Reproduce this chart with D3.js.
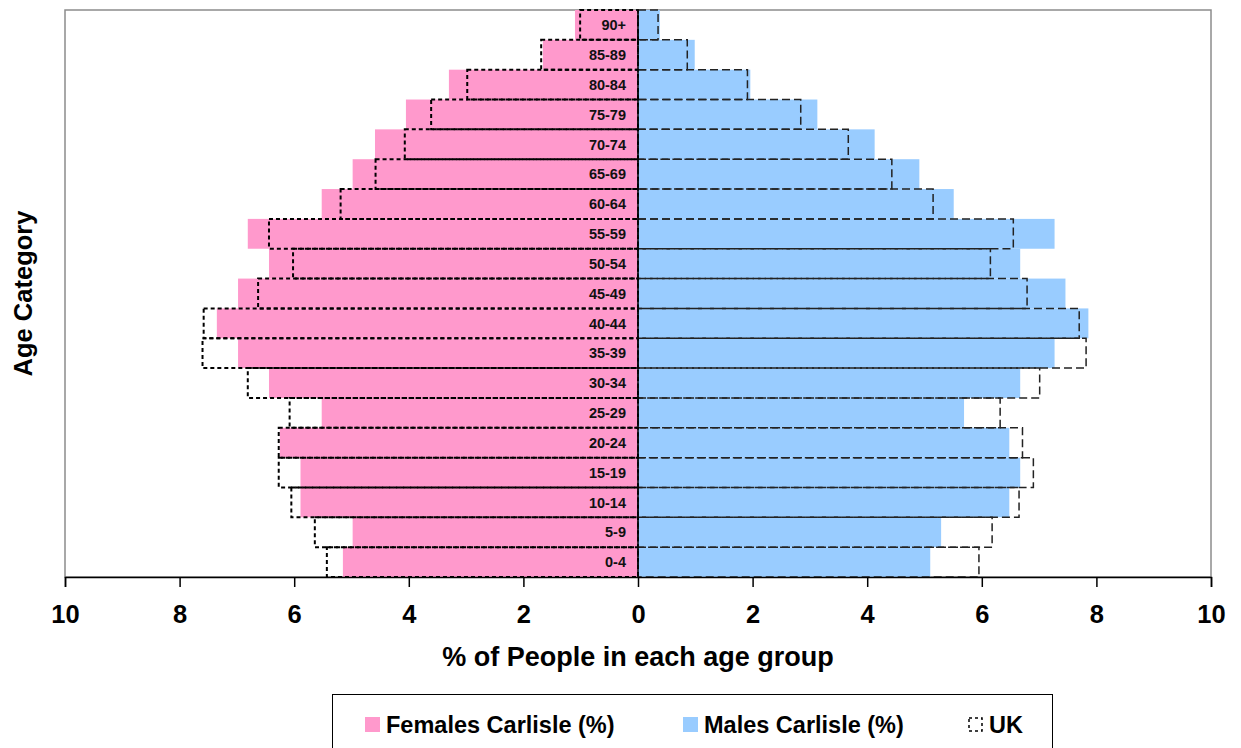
<!DOCTYPE html>
<html>
<head>
<meta charset="utf-8">
<script src="https://cdn.jsdelivr.net/npm/d3@7"></script>
<style>
  body { margin: 0; background: #fff; }
  svg { display: block; font-family: "Liberation Sans", Arial, sans-serif; font-weight: bold; }
</style>
</head>
<body>
<svg id="chart" width="1241" height="748"></svg>
<script>
// age bands, top to bottom
const ages = ["90+", "85-89", "80-84", "75-79", "70-74", "65-69", "60-64", "55-59", "50-54",
  "45-49", "40-44", "35-39", "30-34", "25-29", "20-24", "15-19", "10-14", "5-9", "0-4"];
const femalesCarlisle = [1.10, 1.66, 3.30, 4.05, 4.59, 4.98, 5.52, 6.81, 6.44,
  6.98, 7.35, 6.98, 6.44, 5.52, 6.25, 5.89, 5.89, 4.98, 5.15];
const malesCarlisle = [0.38, 0.99, 1.96, 3.13, 4.13, 4.91, 5.51, 7.27, 6.67,
  7.46, 7.86, 7.27, 6.67, 5.69, 6.48, 6.67, 6.48, 5.29, 5.10];
const femalesUK = [1.01, 1.69, 2.98, 3.61, 4.07, 4.58, 5.19, 6.44, 6.02,
  6.63, 7.58, 7.60, 6.81, 6.08, 6.27, 6.27, 6.05, 5.64, 5.43];
const malesUK = [0.35, 0.86, 1.91, 2.84, 3.67, 4.43, 5.15, 6.55, 6.15,
  6.79, 7.70, 7.82, 7.01, 6.32, 6.71, 6.90, 6.65, 6.18, 5.95];
const xTicks = [-10, -8, -6, -4, -2, 0, 2, 4, 6, 8, 10];

const pink = "#ff99cc", blue = "#99ccff";

const svg = d3.select("#chart");
const pLeft = 65, pRight = 1211, pTop = 10, pBottom = 577;

const x = d3.scaleLinear().domain([-10, 10]).range([pLeft, pRight]);
const y = d3.scaleBand().domain(ages).range([pTop, pBottom]).padding(0);

// plot frame
svg.append("rect").attr("x", pLeft).attr("y", pTop).attr("width", pRight - pLeft).attr("height", pBottom - pTop)
  .attr("fill", "none").attr("stroke", "#8c8c8c").attr("stroke-width", 1.5);

const g = svg.append("g");

// carlisle bars
g.selectAll("rect.f").data(ages).enter().append("rect").attr("class", "f")
  .attr("x", (d, i) => x(-femalesCarlisle[i])).attr("y", d => y(d))
  .attr("width", (d, i) => x(0) - x(-femalesCarlisle[i])).attr("height", y.bandwidth())
  .attr("fill", pink);
g.selectAll("rect.m").data(ages).enter().append("rect").attr("class", "m")
  .attr("x", x(0)).attr("y", d => y(d))
  .attr("width", (d, i) => x(malesCarlisle[i]) - x(0)).attr("height", y.bandwidth())
  .attr("fill", blue);

// UK outlines
g.selectAll("rect.fu").data(ages).enter().append("rect").attr("class", "fu")
  .attr("x", (d, i) => x(-femalesUK[i])).attr("y", d => y(d))
  .attr("width", (d, i) => x(0) - x(-femalesUK[i])).attr("height", y.bandwidth())
  .attr("fill", "none").attr("stroke", "#000").attr("stroke-width", 2).attr("stroke-dasharray", "4,3");
g.selectAll("rect.mu").data(ages).enter().append("rect").attr("class", "mu")
  .attr("x", x(0)).attr("y", d => y(d))
  .attr("width", (d, i) => x(malesUK[i]) - x(0)).attr("height", y.bandwidth())
  .attr("fill", "none").attr("stroke", "#222").attr("stroke-width", 1.5).attr("stroke-dasharray", "8,4");

// centre line
g.append("line").attr("x1", x(0)).attr("x2", x(0)).attr("y1", pTop).attr("y2", pBottom)
  .attr("stroke", "#000").attr("stroke-width", 1.5);

// category labels
g.selectAll("text.age").data(ages).enter().append("text").attr("class", "age")
  .attr("x", x(0) - 12).attr("y", d => y(d) + y.bandwidth() / 2)
  .attr("dy", "0.36em").attr("text-anchor", "end").attr("font-size", 14.5).attr("fill", "#111")
  .text(d => d);

// x axis
const xAxis = d3.axisBottom(x).tickValues(xTicks).tickSize(10).tickPadding(18)
  .tickFormat(d => Math.abs(d));
const ax = svg.append("g").attr("transform", `translate(0,${pBottom})`).call(xAxis);
ax.select(".domain").attr("stroke", "#000").attr("stroke-width", 1.5);
ax.selectAll(".tick line").attr("stroke", "#000").attr("stroke-width", 1.5);
ax.selectAll(".tick text").attr("font-size", 25.5).attr("font-family", "Liberation Sans, Arial, sans-serif")
  .attr("font-weight", "bold").attr("fill", "#000");

svg.append("text").attr("x", x(0)).attr("y", 666).attr("text-anchor", "middle")
  .attr("font-size", 27).text("% of People in each age group");

svg.append("text").attr("transform", `translate(32,${(pTop + pBottom) / 2}) rotate(-90)`)
  .attr("text-anchor", "middle").attr("font-size", 25.5).text("Age Category");

// legend
const lg = svg.append("g");
lg.append("rect").attr("x", 332.5).attr("y", 694.5).attr("width", 720).attr("height", 70)
  .attr("fill", "#fff").attr("stroke", "#000").attr("stroke-width", 1);
const legendItems = [
  { label: "Females Carlisle (%)", x: 365, fill: pink },
  { label: "Males Carlisle (%)", x: 683, fill: blue },
  { label: "UK", x: 968, fill: "none" }
];
legendItems.forEach(it => {
  const r = lg.append("rect").attr("x", it.x).attr("y", 717).attr("width", 15).attr("height", 15)
    .attr("fill", it.fill);
  if (it.fill === "none") r.attr("x", it.x + 1).attr("y", 718).attr("width", 13).attr("height", 13)
    .attr("stroke", "#000").attr("stroke-width", 1.5).attr("stroke-dasharray", "3,3");
  lg.append("text").attr("x", it.x + 21).attr("y", 733).attr("font-size", 23.5).text(it.label);
});
</script>
</body>
</html>
